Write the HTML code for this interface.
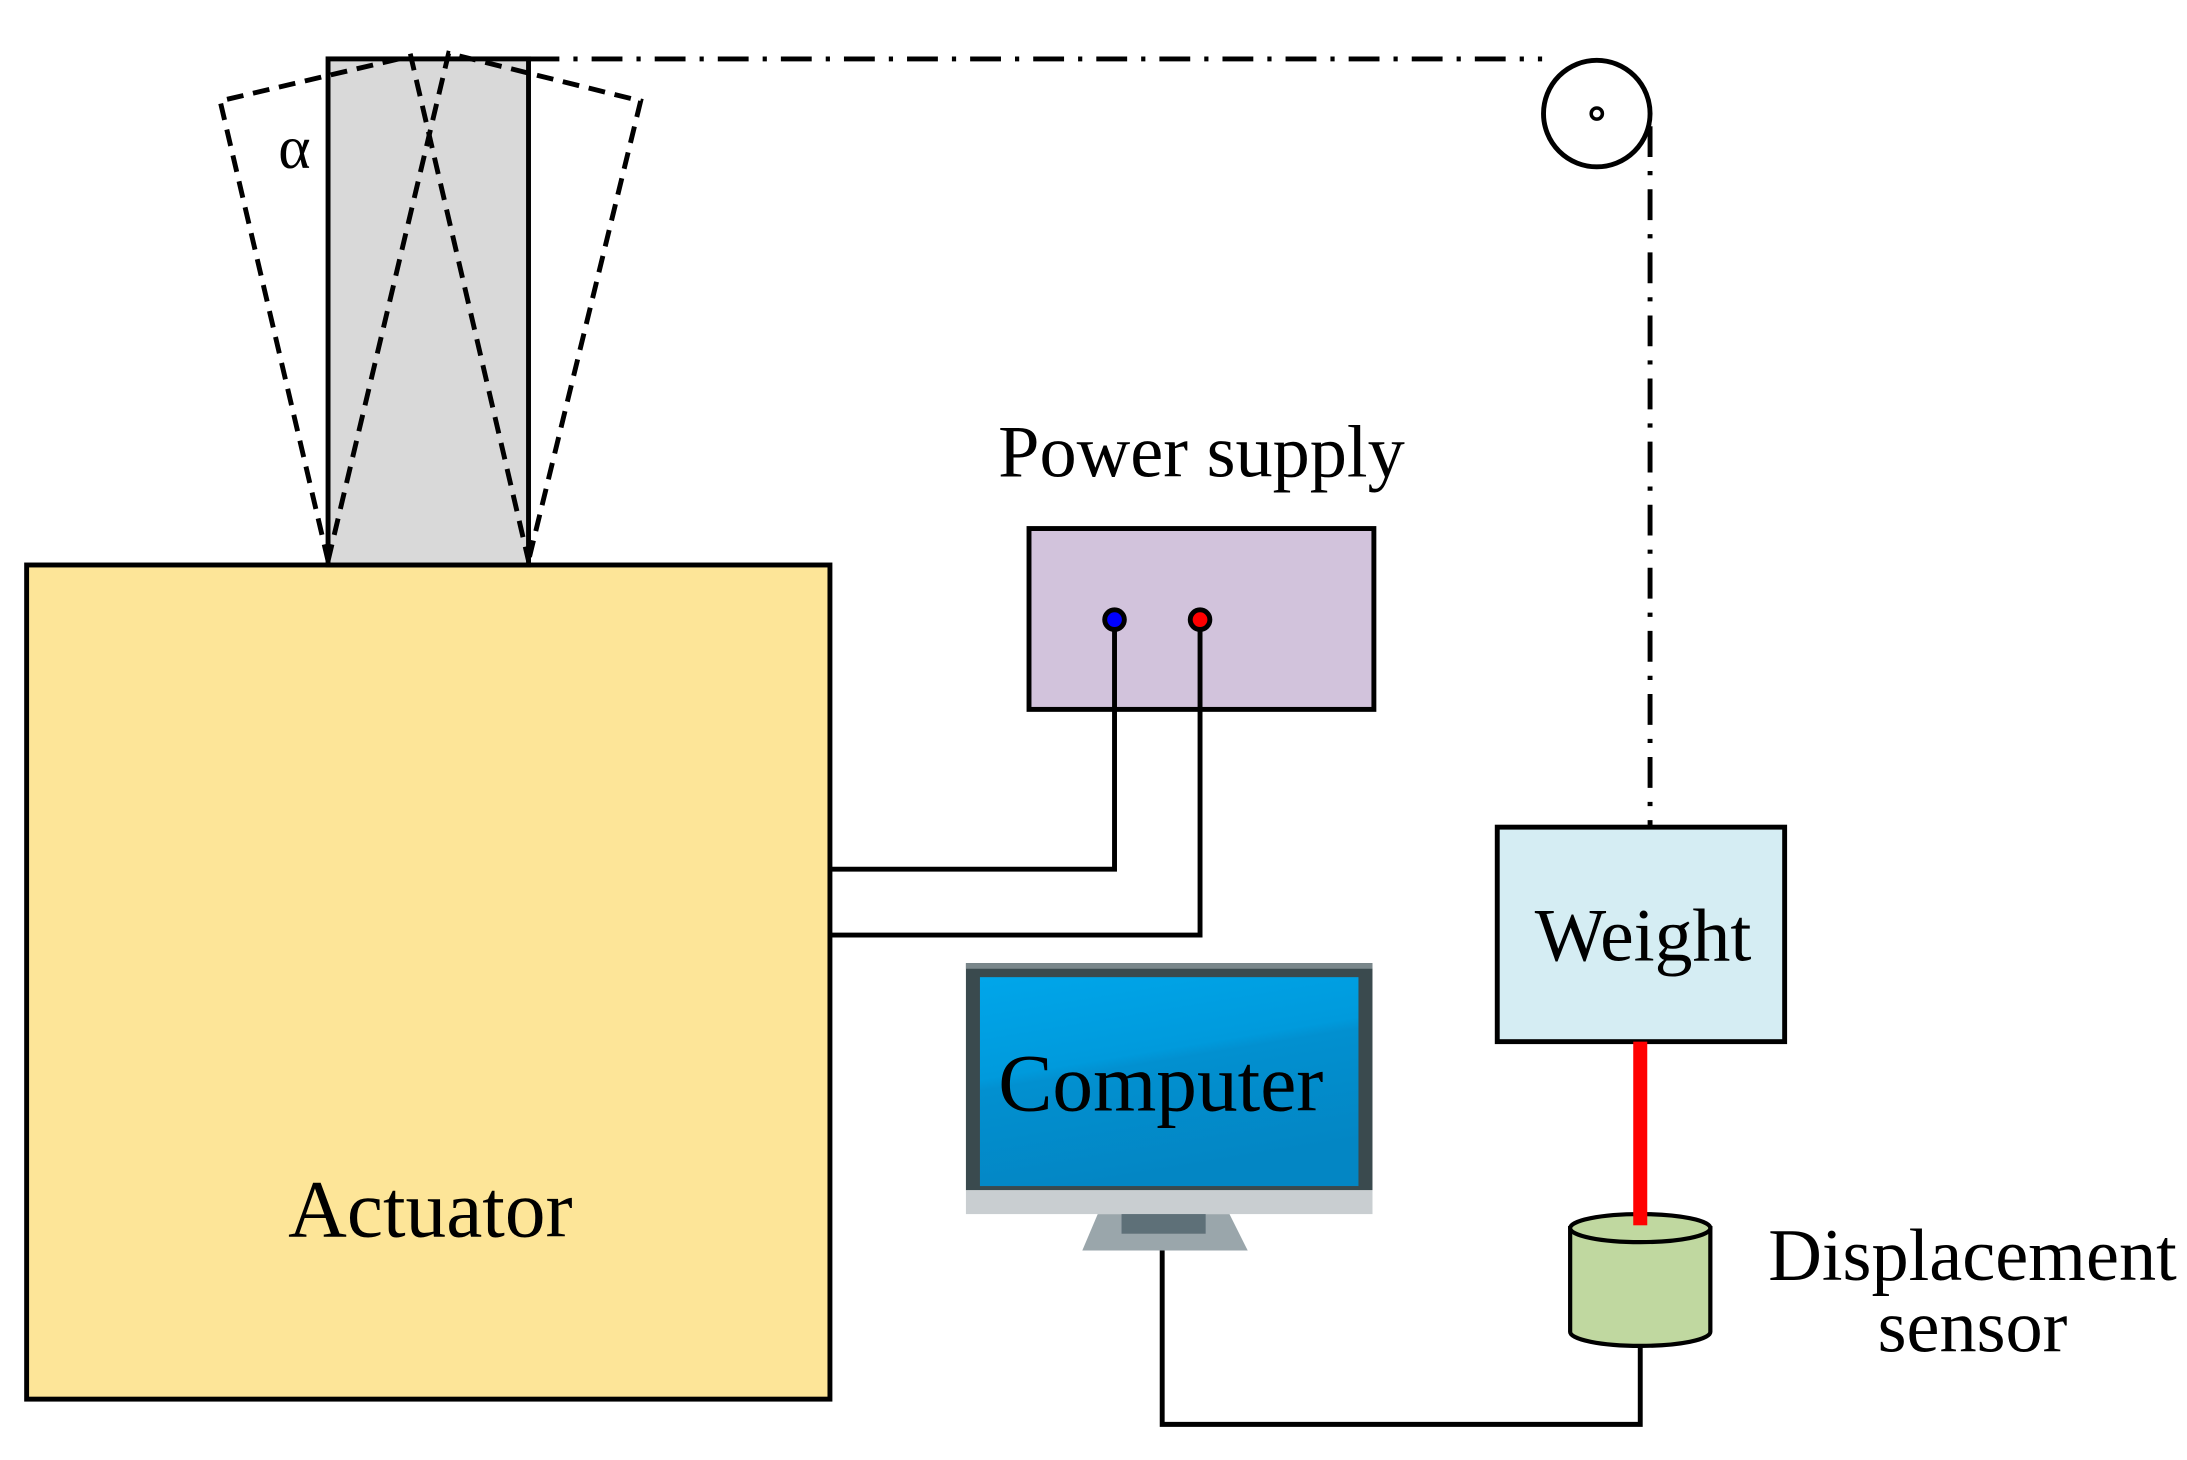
<!DOCTYPE html>
<html><head><meta charset="utf-8"><style>html,body{margin:0;padding:0;background:#fff}svg{display:block}text{font-family:"Liberation Serif",serif;fill:#000}</style></head><body>
<svg width="2187" height="1460" viewBox="0 0 1560 1041.4" xmlns="http://www.w3.org/2000/svg">
<defs><linearGradient id="scr" x1="0" y1="0" x2="0.3" y2="1"><stop offset="0" stop-color="#00A6EA"/><stop offset="0.45" stop-color="#009ADC"/><stop offset="0.5" stop-color="#0290D0"/><stop offset="1" stop-color="#0386C4"/></linearGradient></defs>
<rect x="19" y="403" width="573" height="595" fill="#FDE598" stroke="#000" stroke-width="3.5"/>
<rect x="234" y="42" width="143" height="361" fill="#D9D9D9" stroke="#000" stroke-width="3.5"/>
<g fill="none" stroke="#000" stroke-width="3.5" stroke-dasharray="12,7">
<polyline points="234,400 157,72 293,40 377,400"/>
<polyline points="234,400 320,38 457,72 377,400"/>
</g>
<text x="210" y="120" font-size="44" text-anchor="middle">α</text>
<line x1="377" y1="42" x2="1100" y2="42" stroke="#000" stroke-width="3.5" stroke-dasharray="22,10,3,10"/>
<circle cx="1139" cy="81" r="38" fill="#fff" stroke="#000" stroke-width="3.5"/>
<circle cx="1139" cy="81" r="4" fill="#fff" stroke="#000" stroke-width="2.5"/>
<line x1="1177" y1="90" x2="1177" y2="590" stroke="#000" stroke-width="3.5" stroke-dasharray="22,10,3,10"/>
<text x="857" y="340" font-size="53" text-anchor="middle">Power supply</text>
<rect x="734" y="377" width="246" height="129" fill="#D2C3DC" stroke="#000" stroke-width="3.5"/>
<polyline points="795,450 795,620 592,620" fill="none" stroke="#000" stroke-width="3.5"/>
<polyline points="856,450 856,667 592,667" fill="none" stroke="#000" stroke-width="3.5"/>
<circle cx="795" cy="442" r="7" fill="#0000FF" stroke="#000" stroke-width="3.5"/>
<circle cx="856" cy="442" r="7" fill="#FF0000" stroke="#000" stroke-width="3.5"/>
<text x="307" y="882" font-size="58" text-anchor="middle">Actuator</text>
<rect x="689" y="687" width="290" height="162" fill="#3A4A4E"/>
<rect x="689" y="687" width="290" height="4" fill="#7A878B"/>
<rect x="699" y="697" width="270" height="149" fill="url(#scr)"/>
<rect x="689" y="849" width="290" height="17" fill="#C9CED1"/>
<polygon points="783,866 877,866 890,892 772,892" fill="#9AA6AB"/>
<rect x="800" y="866" width="60" height="14" fill="#5E7078"/>
<text x="828" y="792" font-size="58" text-anchor="middle">Computer</text>
<polyline points="829,892 829,1016 1170,1016 1170,955" fill="none" stroke="#000" stroke-width="3.5"/>
<rect x="1068" y="590" width="205" height="153" fill="#D5EDF3" stroke="#000" stroke-width="3.5"/>
<text x="1172" y="685" font-size="54" text-anchor="middle">Weight</text>
<path d="M1120,876 L1120,950 A50,10 0 0 0 1220,950 L1220,876 Z" fill="#C0D8A0" stroke="#000" stroke-width="3"/>
<ellipse cx="1170" cy="876" rx="50" ry="10" fill="#C0D8A0" stroke="#000" stroke-width="3"/>
<rect x="1165" y="743" width="10" height="131" fill="#FF0000"/>
<text x="1407" y="913" font-size="53" text-anchor="middle">Displacement</text>
<text x="1407" y="964" font-size="53" text-anchor="middle">sensor</text>
</svg>
</body></html>
